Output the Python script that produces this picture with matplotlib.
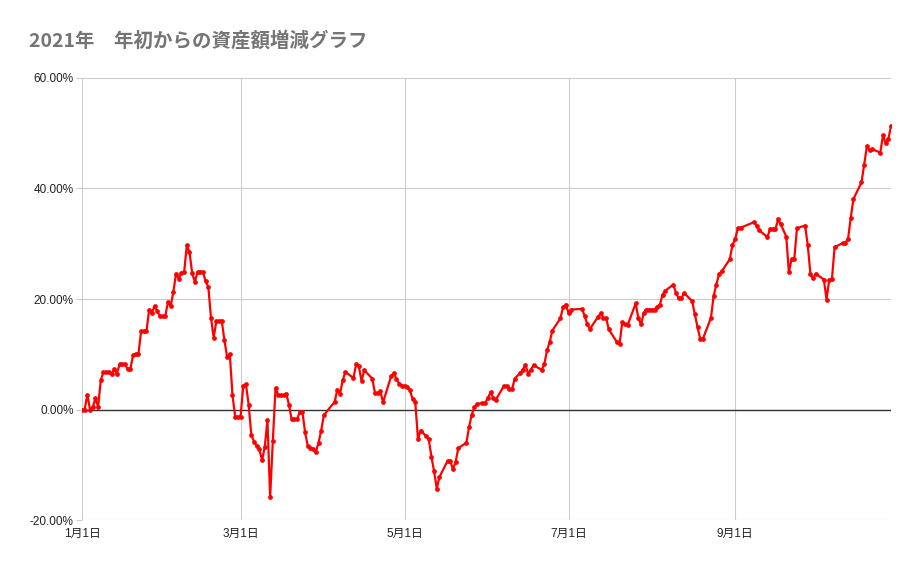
import matplotlib
matplotlib.use("Agg")
import matplotlib.pyplot as plt
import matplotlib.dates as mdates
from matplotlib.ticker import FuncFormatter, MultipleLocator
import pandas as pd

plt.rcParams['font.family'] = ['Liberation Sans', 'Noto Sans CJK JP', 'DejaVu Sans']

title = "2021年　年初からの資産額増減グラフ"

# dates (2021) and change from start of year in %
dates = [
    "1/1", "1/2", "1/3", "1/4", "1/5", "1/6", "1/7", "1/8", "1/9", "1/10",
    "1/11", "1/12", "1/13", "1/14", "1/15", "1/16", "1/17", "1/18", "1/19", "1/20",
    "1/21", "1/22", "1/23", "1/24", "1/25", "1/26", "1/27", "1/28", "1/29", "1/30",
    "1/31", "2/1", "2/2", "2/3", "2/4", "2/5", "2/6", "2/7", "2/8", "2/9",
    "2/10", "2/11", "2/12", "2/13", "2/14", "2/15", "2/16", "2/17", "2/18", "2/19",
    "2/20", "2/21", "2/22", "2/23", "2/24", "2/25", "2/26", "2/27", "2/28", "3/1",
    "3/2", "3/3", "3/4", "3/5", "3/6", "3/7", "3/8", "3/9", "3/10", "3/11",
    "3/12", "3/13", "3/14", "3/15", "3/16", "3/17", "3/18", "3/19", "3/20", "3/21",
    "3/22", "3/23", "3/24", "3/25", "3/26", "3/27", "3/28", "3/29", "3/30", "3/31",
    "4/1", "4/5", "4/6", "4/7", "4/8", "4/9", "4/12", "4/13", "4/14", "4/15",
    "4/16", "4/19", "4/20", "4/21", "4/22", "4/23", "4/26", "4/27", "4/28", "4/29",
    "4/30", "5/1", "5/2", "5/3", "5/4", "5/5", "5/6", "5/7", "5/9", "5/10",
    "5/11", "5/12", "5/13", "5/14", "5/17", "5/18", "5/19", "5/20", "5/21", "5/24",
    "5/25", "5/26", "5/27", "5/28", "5/30", "5/31", "6/1", "6/2", "6/3", "6/4",
    "6/7", "6/8", "6/9", "6/10", "6/11", "6/13", "6/14", "6/15", "6/16", "6/17",
    "6/18", "6/21", "6/22", "6/23", "6/24", "6/25", "6/28", "6/29", "6/30", "7/1",
    "7/2", "7/6", "7/7", "7/8", "7/9", "7/12", "7/13", "7/14", "7/15", "7/16",
    "7/19", "7/20", "7/21", "7/22", "7/23", "7/26", "7/27", "7/28", "7/29", "7/30",
    "7/31", "8/1", "8/2", "8/3", "8/4", "8/5", "8/6", "8/9", "8/10", "8/11",
    "8/12", "8/13", "8/16", "8/17", "8/18", "8/19", "8/20", "8/23", "8/24", "8/25",
    "8/26", "8/27", "8/30", "8/31", "9/1", "9/2", "9/3", "9/8", "9/9", "9/10",
    "9/13", "9/14", "9/15", "9/16", "9/17", "9/18", "9/20", "9/21", "9/22", "9/23",
    "9/24", "9/27", "9/28", "9/29", "9/30", "10/1", "10/4", "10/5", "10/6", "10/7",
    "10/8", "10/11", "10/12", "10/13", "10/14", "10/15", "10/18", "10/19", "10/20", "10/21",
    "10/22", "10/25", "10/26", "10/27", "10/28", "10/29",
]
change = [
    0.0, 0.0, 2.7, 0.0, 0.4, 2.0, 0.5, 5.3, 6.8, 6.8,
    6.8, 6.4, 7.3, 6.5, 8.2, 8.2, 8.2, 7.3, 7.3, 9.8,
    10.1, 10.0, 14.2, 14.2, 14.2, 18.1, 17.5, 18.7, 17.8, 16.9,
    16.9, 16.9, 19.5, 18.7, 21.3, 24.6, 23.7, 24.7, 24.8, 29.7,
    28.5, 24.7, 23.1, 24.9, 24.9, 24.9, 23.2, 22.2, 16.6, 13.0,
    16.0, 16.0, 16.1, 12.5, 9.5, 10.0, 2.6, -1.3, -1.3, -1.3,
    4.3, 4.6, 0.9, -4.6, -5.8, -6.6, -7.2, -9.2, -6.8, -1.9,
    -15.9, -5.7, 3.9, 2.7, 2.6, 2.6, 2.9, 0.9, -1.8, -1.8,
    -1.8, -0.5, -0.4, -4.1, -6.6, -6.9, -7.2, -7.7, -6.0, -3.8,
    -1.0, 1.4, 3.6, 2.8, 5.3, 6.8, 5.7, 8.2, 7.8, 5.2,
    7.1, 5.6, 3.0, 3.0, 3.3, 1.3, 6.0, 6.6, 5.5, 4.7,
    4.3, 4.3, 4.0, 3.5, 1.9, 1.3, -5.3, -3.8, -4.8, -5.4,
    -8.5, -11.2, -14.3, -12.2, -9.3, -9.3, -10.8, -9.5, -7.0, -6.0,
    -3.2, -0.9, 0.4, 1.0, 1.2, 1.2, 2.1, 3.1, 2.1, 1.8,
    4.3, 4.2, 3.7, 3.7, 5.6, 6.6, 7.2, 8.0, 6.5, 7.2,
    8.0, 7.2, 8.2, 10.7, 12.2, 14.3, 16.5, 18.6, 19.0, 17.5,
    18.1, 18.2, 17.0, 15.4, 14.6, 16.8, 17.4, 16.6, 16.5, 14.5,
    12.2, 11.9, 15.8, 15.4, 15.3, 19.2, 16.5, 15.4, 17.5, 18.1,
    18.1, 18.1, 18.1, 18.6, 19.0, 20.8, 21.5, 22.6, 21.1, 20.1,
    20.1, 21.1, 19.6, 17.2, 14.9, 12.8, 12.8, 16.6, 20.6, 22.6,
    24.5, 25.0, 27.2, 29.8, 30.8, 32.8, 32.9, 33.9, 33.3, 32.4,
    31.2, 32.7, 32.7, 32.7, 34.4, 33.5, 31.3, 24.8, 27.3, 27.3,
    32.8, 33.3, 29.8, 24.5, 23.8, 24.6, 23.5, 19.9, 23.5, 23.6,
    29.4, 30.1, 30.2, 30.9, 34.7, 38.1, 41.1, 44.3, 47.6, 46.9,
    47.1, 46.5, 49.6, 48.2, 49.0, 51.3,
]

x = pd.to_datetime(["2021/" + d for d in dates], format="%Y/%m/%d")
y = [v / 100 for v in change]

fig = plt.figure(figsize=(9.21, 5.69), dpi=100)
ax = fig.add_axes([0.089, 0.086, 0.8785, 0.777])

ax.plot(x, y, color="#ff0000", lw=1.6, marker="o", ms=2.4, zorder=3)
ax.axhline(0, color="#333333", lw=1.0, zorder=2)

ax.set_xlim(x[0], x[-1])
ax.set_ylim(-0.2, 0.6)
ax.yaxis.set_major_locator(MultipleLocator(0.2))
ax.yaxis.set_major_formatter(FuncFormatter(lambda v, p: f"{v * 100:.2f}%"))
ax.xaxis.set_major_locator(mdates.MonthLocator(bymonth=[1, 3, 5, 7, 9]))
ax.xaxis.set_major_formatter(FuncFormatter(
    lambda v, p: f"{mdates.num2date(v).month}月{mdates.num2date(v).day}日"))

ax.grid(True, color="#cccccc", lw=0.8)
ax.set_axisbelow(True)
for s in ax.spines.values():
    s.set_visible(False)
ax.tick_params(axis="y", length=4, width=0.8, color="#cccccc", labelsize=8.5,
               labelcolor="#222222", pad=2)
ax.tick_params(axis="x", length=0, labelsize=8.5, labelcolor="#222222", pad=6)

fig.text(0.032, 0.928, title, fontsize=14, fontweight="bold", color="#757575",
         family=["Noto Sans CJK JP", "DejaVu Sans"], va="center")

fig.savefig("out.png", dpi=100)
